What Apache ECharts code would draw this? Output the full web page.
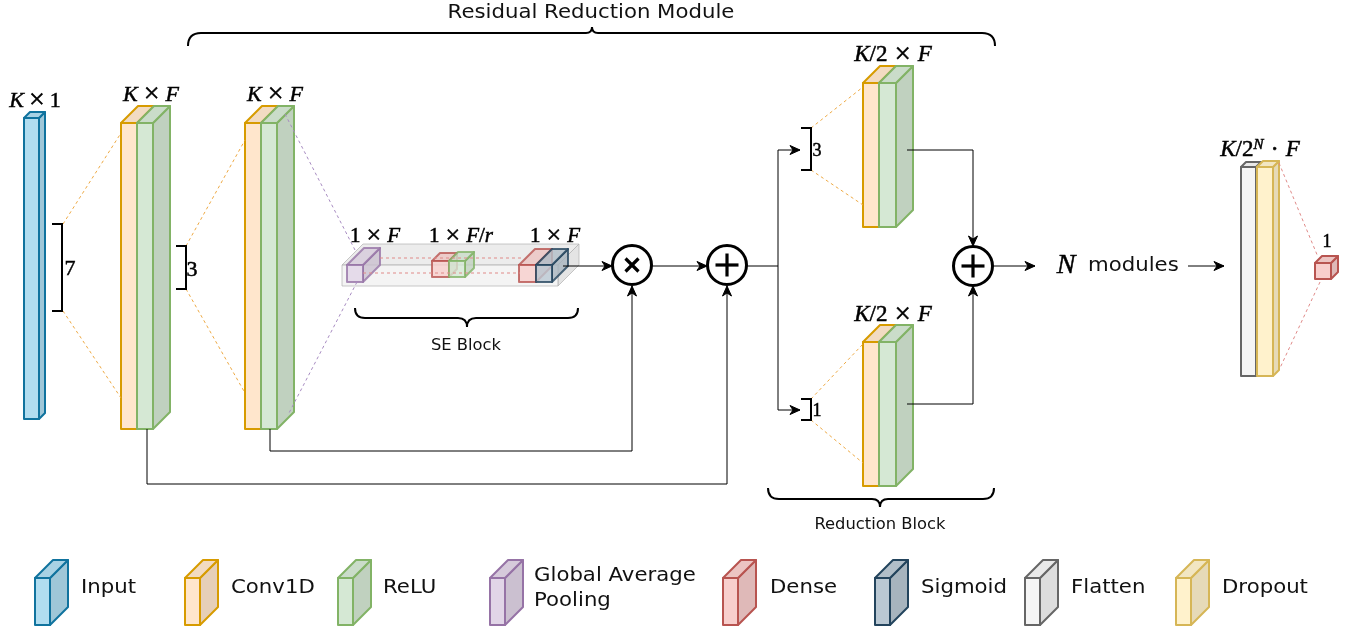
<!DOCTYPE html>
<html><head><meta charset="utf-8">
<script src="https://cdn.jsdelivr.net/npm/echarts@6/dist/echarts.min.js"></script>
<style>html,body{margin:0;padding:0;background:#fff}#c{width:1359px;height:633px}</style>
</head><body><div id="c"></div>
<script>
// ===== content =====
const legendNames = ['Input', 'Conv1D', 'ReLU', 'Global Average\nPooling', 'Dense', 'Sigmoid', 'Flatten', 'Dropout'];
const layerKinds = ['input', 'conv', 'relu', 'gap', 'dense', 'sigmoid', 'flatten', 'dropout', 'se'];
const blockNames = ['Residual Reduction Module', 'SE Block', 'Reduction Block'];
const shapeLabels = ['{i|K}{o|×}1', '{i|K}{o|×}{i|F}', '{i|K}{o|×}{i|F}', '1{o|×}{i|F}', '1{o|×}{i|F}/{i|r}', '1{o|×}{i|F}',
  '{i|K}/2{o|×}{i|F}', '{i|K}/2{o|×}{i|F}', '{i|K}/2{s|N}{d|·}{i|F}', '1'];
const kernelSizes = ['7', '3', '3', '1'];
const repeatLabel = ['N', 'modules'];

// ===== styles =====
const palette = {
  input: ['#b1ddf0', '#10739e'], conv: ['#ffe6cc', '#d79b00'], relu: ['#d5e8d4', '#82b366'],
  gap: ['#e1d5e7', '#9673a6'], dense: ['#f8cecc', '#b85450'], sigmoid: ['#bac8d3', '#23445d'],
  flatten: ['#f5f5f5', '#666666'], dropout: ['#fff2cc', '#d6b656'], se: ['#f0f0f0', '#b0b0b0']
};
const SANS = '"DejaVu Sans", sans-serif';
const SERIF = '"Liberation Serif", serif';

// ===== layout (diagram units on hidden axes) =====
// box: [x, y, w, h, depth, kindIndex, lineWidth, opacity]
const boxes = [
  [24, 118, 15, 301, 6, 0, 2, 1],
  [121, 123, 16, 306, 17, 1, 2, 1], [137, 123, 16, 306, 17, 2, 2, 1],
  [245, 123, 16, 306, 17, 1, 2, 1], [261, 123, 16, 306, 17, 2, 2, 1],
  [342, 265, 216, 21, 21, 8, 1, 0.7],
  [347, 265, 16, 17, 17, 3, 2, 0.8], [432, 261, 17, 16, 8, 4, 2, 0.8], [449, 261, 16, 16, 9, 2, 2, 0.8],
  [519, 265, 17, 17, 16, 4, 2, 0.8], [536, 265, 16, 17, 16, 5, 2, 0.8],
  [863, 83, 16, 144, 17, 1, 2, 1], [879, 83, 17, 144, 17, 2, 2, 1],
  [863, 342, 16, 144, 17, 1, 2, 1], [879, 342, 17, 144, 17, 2, 2, 1],
  [1241, 167, 15, 209, 5, 6, 2, 1], [1257, 167, 16, 209, 6, 7, 2, 1],
  [1315, 263, 16, 16, 7, 4, 2, 1]
];
const legendIconX = [35, 185, 338, 490, 723, 875, 1025, 1176];
const legendTextX = [81, 231, 383, 534, 770, 921, 1071, 1222];
legendIconX.forEach((x, i) => boxes.push([x, 578, 15, 47, 18, i, 2, 1]));

// lines: points, arrow, colour, dash
const lines = [
  {p: [[147, 429], [147, 484], [727, 484], [727, 286]], a: 1},
  {p: [[270, 429], [270, 451], [632, 451], [632, 286]], a: 1},
  {p: [[563, 266], [612, 266]], a: 1},
  {p: [[652, 266], [707, 266]], a: 1},
  {p: [[747, 266], [778, 266]], a: 0},
  {p: [[778, 150], [778, 410]], a: 0},
  {p: [[778, 150], [800, 150]], a: 1},
  {p: [[778, 410], [800, 410]], a: 1},
  {p: [[907, 150], [973, 150], [973, 246]], a: 1},
  {p: [[907, 404], [973, 404], [973, 286]], a: 1},
  {p: [[993, 266], [1035, 266]], a: 1},
  {p: [[1188, 266], [1224, 266]], a: 1},
  {p: [[63, 224], [121, 133]], c: '#eeaa45', d: 1},
  {p: [[63, 311], [121, 398]], c: '#eeaa45', d: 1},
  {p: [[186, 246], [245, 140]], c: '#eeaa45', d: 1},
  {p: [[186, 289], [245, 393]], c: '#eeaa45', d: 1},
  {p: [[285, 114], [355, 250]], c: '#a88cc2', d: 1},
  {p: [[357, 282], [289, 413]], c: '#a88cc2', d: 1},
  {p: [[380, 258], [524, 258]], c: '#e08a88', d: 1},
  {p: [[363, 273], [520, 273]], c: '#e08a88', d: 1},
  {p: [[811, 128], [863, 87]], c: '#eeaa45', d: 1},
  {p: [[811, 170], [863, 205]], c: '#eeaa45', d: 1},
  {p: [[811, 399], [863, 344]], c: '#eeaa45', d: 1},
  {p: [[811, 420], [863, 463]], c: '#eeaa45', d: 1},
  {p: [[1279, 163], [1318, 257]], c: '#e08a88', d: 1},
  {p: [[1320, 282], [1280, 368]], c: '#e08a88', d: 1}
];
// operators: cx, cy, r, kind (0 = multiply, 1 = add)
const ops = [[632, 265, 19.5, 0], [727, 265, 19.5, 1], [973, 266, 19.5, 1]];
// kernel brackets: xRight, yTop, yBottom, labelX, labelY, fontSize
const brackets = [[62, 224, 311, 70, 269, 22], [186, 246, 289, 192, 270, 22], [811, 128, 170, 817, 151, 18], [811, 399, 420, 817, 411, 18]];
// braces: x1, x2, yEnd, yLine, yTip, xTip
const braces = [[188, 995, 46, 33, 27, 592], [355, 578, 308, 318, 327, 467], [768, 994, 488, 499, 507, 880]];
// math label positions: x, y, size, operator padding
const mathPos = [[35, 101, 22, 5], [151, 95, 22, 6], [275, 95, 22, 6], [375, 236, 21, 6], [461, 236, 21, 6], [555, 236, 21, 6],
  [893, 55, 23, 7], [893, 315, 23, 7], [1260, 150, 23, 7], [1327, 242, 18, 0]];
const blockPos = [[591, 13, 19.5], [466, 346, 15], [880, 525, 15]];

// ===== helpers =====
function shade(hex, f) {
  const n = parseInt(hex.slice(1), 16);
  return 'rgb(' + [(n >> 16) & 255, (n >> 8) & 255, n & 255].map(v => Math.round(v * f)).join(',') + ')';
}
function pt(api, x, y) { return api.coord([x, y]); }

function renderBox(params, api) {
  const b = boxes[params.dataIndex];
  const [x, y, w, h, d, k, lw, op] = b;
  const c = palette[layerKinds[k]];
  const p0 = pt(api, x, y), p1 = pt(api, x + w, y + h);
  const s = api.size([d, d]);
  const dx = s[0], dy = s[1];
  const x0 = p0[0], y0 = p0[1], x1 = p1[0], y1 = p1[1];
  const st = (fill) => ({fill: fill, stroke: c[1], lineWidth: lw, lineJoin: 'round', opacity: op});
  return {
    type: 'group', children: [
      {type: 'polygon', shape: {points: [[x1, y0], [x1 + dx, y0 - dy], [x1 + dx, y1 - dy], [x1, y1]]}, style: st(shade(c[0], 0.9))},
      {type: 'polygon', shape: {points: [[x0, y0], [x0 + dx, y0 - dy], [x1 + dx, y0 - dy], [x1, y0]]}, style: st(shade(c[0], 0.95))},
      {type: 'polygon', shape: {points: [[x0, y0], [x1, y0], [x1, y1], [x0, y1]]}, style: st(c[0])}
    ]
  };
}

function arrowHead(a, b) {
  const vx = b[0] - a[0], vy = b[1] - a[1];
  const L = Math.hypot(vx, vy) || 1;
  const ux = vx / L, uy = vy / L, nx = -uy, ny = ux;
  const len = 10, hw = 4.5, notch = 3;
  return {
    type: 'polygon',
    shape: {points: [b, [b[0] - ux * len + nx * hw, b[1] - uy * len + ny * hw], [b[0] - ux * (len - notch), b[1] - uy * (len - notch)],
      [b[0] - ux * len - nx * hw, b[1] - uy * len - ny * hw]]},
    style: {fill: '#000', stroke: '#000', lineWidth: 1, lineJoin: 'miter'}
  };
}

function renderLine(params, api) {
  const l = lines[params.dataIndex];
  const pts = l.p.map(q => pt(api, q[0], q[1]));
  const ch = [{
    type: 'polyline', shape: {points: pts},
    style: {fill: null, stroke: l.c || '#000', lineWidth: 1, lineDash: l.d ? [3, 3] : null}
  }];
  if (l.a) ch.push(arrowHead(pts[pts.length - 2], pts[pts.length - 1]));
  return {type: 'group', children: ch};
}

function renderOp(params, api) {
  const o = ops[params.dataIndex];
  const c = pt(api, o[0], o[1]);
  const r = api.size([o[2], 0])[0];
  const ch = [{type: 'circle', shape: {cx: c[0], cy: c[1], r: r}, style: {fill: '#fff', stroke: '#000', lineWidth: 3}}];
  const ls = {stroke: '#000', lineWidth: 3.2, lineCap: 'butt'};
  if (o[3] === 0) {
    const k = 6.5;
    ch.push({type: 'line', shape: {x1: c[0] - k, y1: c[1] - k, x2: c[0] + k, y2: c[1] + k}, style: ls});
    ch.push({type: 'line', shape: {x1: c[0] - k, y1: c[1] + k, x2: c[0] + k, y2: c[1] - k}, style: ls});
  } else {
    const k = 11.5;
    ch.push({type: 'line', shape: {x1: c[0] - k, y1: c[1], x2: c[0] + k, y2: c[1]}, style: ls});
    ch.push({type: 'line', shape: {x1: c[0], y1: c[1] - k, x2: c[0], y2: c[1] + k}, style: ls});
  }
  return {type: 'group', children: ch};
}

const INK = {fill: '#000', stroke: '#000', lineWidth: 0.5};

function renderBracket(params, api) {
  const b = brackets[params.dataIndex];
  const tl = pt(api, b[0] - 10, b[1]), tr = pt(api, b[0], b[1]), br = pt(api, b[0], b[2]), bl = pt(api, b[0] - 10, b[2]);
  const lp = pt(api, b[3], b[4]);
  return {
    type: 'group', children: [
      {type: 'polyline', shape: {points: [tl, tr, br, bl]}, style: {fill: null, stroke: '#000', lineWidth: 2}},
      {type: 'text', x: lp[0], y: lp[1], style: Object.assign({text: kernelSizes[params.dataIndex], x: 0, y: 0, align: 'center',
        verticalAlign: 'middle', fontFamily: SERIF, fontSize: b[5]}, INK)}
    ]
  };
}

function renderBrace(params, api) {
  const [x1, x2, yE, yL, yT, xm] = braces[params.dataIndex];
  const P = (x, y) => pt(api, x, y);
  const r = Math.abs(yE - yL), t = Math.abs(yL - yT);
  const seq = [['M', P(x1, yE)], ['Q', P(x1, yL), P(x1 + r, yL)], ['L', P(xm - t, yL)], ['Q', P(xm, yL), P(xm, yT)],
    ['Q', P(xm, yL), P(xm + t, yL)], ['L', P(x2 - r, yL)], ['Q', P(x2, yL), P(x2, yE)]];
  const d = seq.map(s => s[0] + ' ' + s.slice(1).map(q => q[0].toFixed(1) + ' ' + q[1].toFixed(1)).join(' ')).join(' ');
  const lp = blockPos[params.dataIndex];
  const tp = pt(api, lp[0], lp[1]);
  return {
    type: 'group', children: [
      {type: 'path', shape: {pathData: d}, style: {fill: null, stroke: '#000', lineWidth: 2}},
      {type: 'text', x: tp[0], y: tp[1], scaleX: 1.09, style: {text: blockNames[params.dataIndex], x: 0, y: 0, align: 'center',
        verticalAlign: 'middle', fontFamily: SANS, fontSize: lp[2], fill: '#111'}}
    ]
  };
}

function renderMath(params, api) {
  const m = mathPos[params.dataIndex];
  const p = pt(api, m[0], m[1]);
  const S = m[2], pad = m[3];
  return {
    type: 'text', x: p[0], y: p[1],
    style: Object.assign({
      text: shapeLabels[params.dataIndex], x: 0, y: 0, align: 'center', verticalAlign: 'middle',
      fontFamily: SERIF, fontSize: S,
      rich: {
        i: Object.assign({fontFamily: SERIF, fontStyle: 'italic', fontSize: S}, INK),
        o: Object.assign({fontFamily: SERIF, fontSize: Math.round(S * 1.25), padding: [0, pad, 0, pad]}, INK),
        d: Object.assign({fontFamily: SERIF, fontSize: Math.round(S * 1.1), padding: [0, pad, 0, pad]}, INK),
        s: Object.assign({fontFamily: SERIF, fontStyle: 'italic', fontSize: Math.round(S * 0.66), verticalAlign: 'top'}, INK)
      }
    }, INK)
  };
}

function renderLegendText(params, api) {
  const i = params.dataIndex;
  const p = pt(api, legendTextX[i], 588);
  return {
    type: 'text', x: p[0], y: p[1], scaleX: 1.09,
    style: {text: legendNames[i], x: 0, y: 0, align: 'left', verticalAlign: 'middle', fontFamily: SANS, fontSize: 19.5,
      lineHeight: 25, fill: '#111'}
  };
}

function renderRepeat(params, api) {
  const pN = pt(api, 1066, 266), pM = pt(api, 1088, 266);
  return {
    type: 'group', children: [
      {type: 'text', x: pN[0], y: pN[1], style: Object.assign({text: repeatLabel[0], x: 0, y: 0, align: 'center', verticalAlign: 'middle',
        fontFamily: SERIF, fontStyle: 'italic', fontSize: 28}, INK)},
      {type: 'text', x: pM[0], y: pM[1], scaleX: 1.09, style: {text: repeatLabel[1], x: 0, y: 0, align: 'left', verticalAlign: 'middle',
        fontFamily: SANS, fontSize: 19.5, fill: '#111'}}
    ]
  };
}

const chart = echarts.init(document.getElementById('c'), null, {renderer: 'canvas'});
const base = {type: 'custom', coordinateSystem: 'cartesian2d', silent: true, animation: false, clip: false};
chart.setOption({
  animation: false,
  backgroundColor: '#fff',
  grid: {left: 0, right: 0, top: 0, bottom: 0},
  xAxis: {type: 'value', min: 0, max: 1359, show: false},
  yAxis: {type: 'value', min: 0, max: 633, inverse: true, show: false},
  series: [
    Object.assign({}, base, {name: 'boxes', z: 1, renderItem: renderBox, data: boxes.map(b => [b[0], b[1]])}),
    Object.assign({}, base, {name: 'lines', z: 2, renderItem: renderLine, data: lines.map(l => l.p[0])}),
    Object.assign({}, base, {name: 'ops', z: 3, renderItem: renderOp, data: ops.map(o => [o[0], o[1]])}),
    Object.assign({}, base, {name: 'brackets', z: 3, renderItem: renderBracket, data: brackets.map(b => [b[0], b[1]])}),
    Object.assign({}, base, {name: 'braces', z: 3, renderItem: renderBrace, data: braces.map(b => [b[0], b[2]])}),
    Object.assign({}, base, {name: 'math', z: 4, renderItem: renderMath, data: mathPos.map(m => [m[0], m[1]])}),
    Object.assign({}, base, {name: 'legend', z: 4, renderItem: renderLegendText, data: legendTextX.map(x => [x, 588])}),
    Object.assign({}, base, {name: 'repeat', z: 4, renderItem: renderRepeat, data: [[1066, 266]]})
  ]
});
</script>
</body></html>
